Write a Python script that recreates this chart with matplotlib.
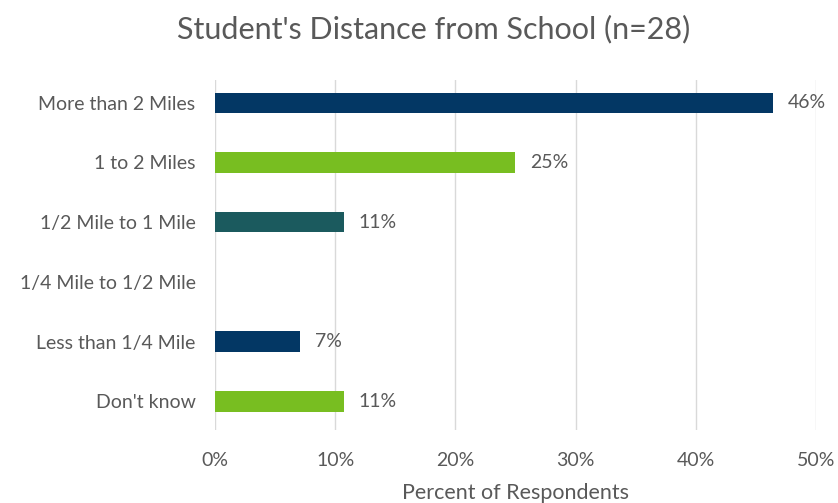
import numpy as np
import matplotlib.pyplot as plt

categories = ["More than 2 Miles", "1 to 2 Miles", "1/2 Mile to 1 Mile",
              "1/4 Mile to 1/2 Mile", "Less than 1/4 Mile", "Don't know"]
percents = [46.4, 25.0, 10.7, 0.0, 7.1, 10.7]
labels = ["46%", "25%", "11%", "", "7%", "11%"]
bar_colors = ["#033764", "#78BE21", "#1B5A5E", "#033764", "#033764", "#78BE21"]
ticks = [0, 10, 20, 30, 40, 50]

plt.rcParams['font.family'] = ['Lato', 'DejaVu Sans']
grey = "#595959"

fig = plt.figure(figsize=(8.38, 5.03), dpi=100)
ax = fig.add_axes([0.2566, 0.145, 0.717, 0.696])

y = np.arange(len(categories))
ax.barh(y, percents, height=0.34, color=bar_colors, zorder=3)
for yi, v, lab in zip(y, percents, labels):
    if lab:
        ax.text(v + 1.25, yi, lab, va='center', ha='left', fontsize=14, color=grey)

ax.set_xlim(0, 50)
ax.set_ylim(5.48, -0.38)
ax.set_xticks(ticks)
ax.set_xticklabels([f"{t}%" for t in ticks])
ax.set_yticks(y)
ax.set_yticklabels(categories)
ax.tick_params(axis='both', length=0, labelsize=14, colors=grey)
ax.tick_params(axis='y', pad=14)
ax.tick_params(axis='x', pad=16)
ax.grid(axis='x', color="#d9d9d9", linewidth=1, zorder=0)
for s in ax.spines.values():
    s.set_visible(False)

ax.set_xlabel("Percent of Respondents", fontsize=15.5, color=grey, labelpad=10)
fig.text(0.517, 0.943, "Student's Distance from School (n=28)", ha='center', va='center',
         fontsize=22, color=grey)

fig.savefig("out.png", dpi=100)
